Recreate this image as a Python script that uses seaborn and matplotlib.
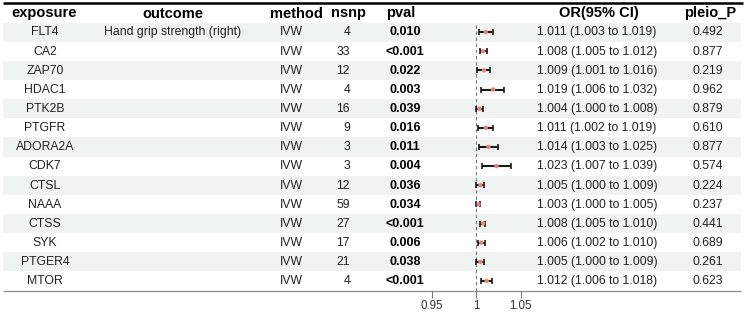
import matplotlib
matplotlib.use("Agg")
import matplotlib.pyplot as plt
import seaborn as sns
import numpy as np
import pandas as pd

exposure = ["FLT4", "CA2", "ZAP70", "HDAC1", "PTK2B", "PTGFR", "ADORA2A",
            "CDK7", "CTSL", "NAAA", "CTSS", "SYK", "PTGER4", "MTOR"]
outcome = ["Hand grip strength (right)"] + [""] * 13
method = ["IVW"] * 14
nsnp = [4, 33, 12, 4, 16, 9, 3, 3, 12, 59, 27, 17, 21, 4]
pval = ["0.010", "<0.001", "0.022", "0.003", "0.039", "0.016", "0.011",
        "0.004", "0.036", "0.034", "<0.001", "0.006", "0.038", "<0.001"]
or_est = [1.011, 1.008, 1.009, 1.019, 1.004, 1.011, 1.014,
          1.023, 1.005, 1.003, 1.008, 1.006, 1.005, 1.012]
or_lo = [1.003, 1.005, 1.001, 1.006, 1.000, 1.002, 1.003,
         1.007, 1.000, 1.000, 1.005, 1.002, 1.000, 1.006]
or_hi = [1.019, 1.012, 1.016, 1.032, 1.008, 1.019, 1.025,
         1.039, 1.009, 1.005, 1.010, 1.010, 1.009, 1.018]
pleio_p = ["0.492", "0.877", "0.219", "0.962", "0.879", "0.610", "0.877",
           "0.574", "0.224", "0.237", "0.441", "0.689", "0.261", "0.623"]
headers = ["exposure", "outcome", "method", "nsnp", "pval", "OR(95% CI)", "pleio_P"]
xticks = [0.95, 1, 1.05]
xticklabels = ["0.95", "1", "1.05"]

df = pd.DataFrame({"exposure": exposure, "OR": or_est, "lo": or_lo, "hi": or_hi,
                   "row": np.arange(len(exposure))})

FONT = ["Liberation Sans", "DejaVu Sans"]
plt.rcParams["font.family"] = FONT

W, H = 745, 314
fig = plt.figure(figsize=(W / 100, H / 100), dpi=100)
ax = fig.add_axes([0, 0, 1, 1])
ax.set_xlim(0, W)
ax.set_ylim(H, 0)
ax.axis("off")

n = len(exposure)
top_y = 22.5
bot_y = 290.5
rh = (bot_y - top_y) / n
left_x, right_x = 3, 741

# row shading
for i in range(n):
    if i % 2 == 0:
        ax.axhspan(top_y + i * rh, top_y + (i + 1) * rh,
                   xmin=left_x / W, xmax=right_x / W, color="#eff3f2", lw=0, zorder=0)

# rules
ax.plot([left_x, right_x + 2], [2.5, 2.5], color="black", lw=1.8, solid_capstyle="butt")
ax.plot([left_x, right_x], [bot_y + 0.5, bot_y + 0.5], color="#8c8c8c", lw=0.9,
        solid_capstyle="butt")

# headers
hdr_x = [44, 173, 296, 348, 401, 599, 710]
for hx, h in zip(hdr_x, headers):
    ax.text(hx, 13.5, h, ha="center", va="center", fontsize=10.5,
            fontweight="bold", color="black")

body_col = "#222222"
for i in range(n):
    y = top_y + (i + 0.5) * rh + 0.3
    ax.text(45, y, exposure[i], ha="center", va="center", fontsize=8.8, color=body_col)
    ax.text(173, y, outcome[i], ha="center", va="center", fontsize=8.8, color=body_col)
    ax.text(291, y, method[i], ha="center", va="center", fontsize=8.8, color=body_col)
    ax.text(350, y, str(nsnp[i]), ha="right", va="center", fontsize=8.8, color=body_col)
    ax.text(405, y, pval[i], ha="center", va="center", fontsize=9, fontweight="bold",
            color="black")
    ax.text(597, y, f"{or_est[i]:.3f} ({or_lo[i]:.3f} to {or_hi[i]:.3f})",
            ha="center", va="center", fontsize=8.8, color=body_col)
    ax.text(708, y, pleio_p[i], ha="center", va="center", fontsize=8.8, color=body_col)

# forest axes
scale = 890.0  # px per unit OR
fx0, fx1 = 420, 530
fax = fig.add_axes([fx0 / W, (H - bot_y) / H, (fx1 - fx0) / W, (bot_y - top_y) / H])
fax.patch.set_alpha(0)
fax.set_xlim(1 - (476 - fx0) / scale, 1 + (fx1 - 476) / scale)
fax.set_ylim(n - 0.5, -0.5)
for s in fax.spines.values():
    s.set_visible(False)
fax.axvline(1, color="#777777", lw=0.8, ls=(0, (3, 2.5)), zorder=1)
fax.errorbar(df["OR"], df["row"], xerr=[df["OR"] - df["lo"], df["hi"] - df["OR"]],
             fmt="none", ecolor="#1a1a1a", elinewidth=1.5, capsize=2.0, capthick=1.2,
             zorder=2)
sns.scatterplot(data=df, x="OR", y="row", ax=fax, color="#e8827a", s=10,
                edgecolor="none", zorder=3, legend=False)
fax.set_xlabel("")
fax.set_ylabel("")
fax.set_yticks([])
fax.set_xticks(xticks)
fax.set_xticklabels(xticklabels, fontsize=8.3, color="#333333")
fax.tick_params(axis="x", direction="out", length=5, width=0.8, color="#777777", pad=2)

fig.savefig("out.png", dpi=100)
